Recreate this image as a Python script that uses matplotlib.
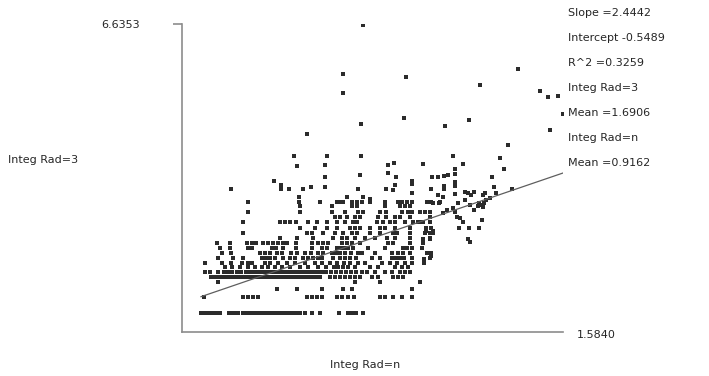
import matplotlib
matplotlib.use("Agg")
import matplotlib.pyplot as plt
import numpy as np

# axis ends shown on the chart
x_max = 1.5840
y_max = 6.6353
x_min = 0.40
y_min = -0.212

# regression stats printed on the right
slope = 2.4442
intercept = -0.5489
r2 = 0.3259
mean_3 = 1.6906
mean_n = 0.9162

# points that sit on horizontal rows: row value (Integ Rad=3) and the Integ Rad=n values on it
row_y = [0.210, 0.566, 0.744, 0.900, 1.011, 1.122, 1.233, 1.322, 1.433, 1.544,
         1.655, 1.767, 1.878, 1.989, 2.100, 2.233, 2.345, 2.456, 2.589, 2.678]
row_x = [
    [0.459, 0.468, 0.478, 0.487, 0.499, 0.509, 0.518, 0.546, 0.555, 0.565, 0.574, 0.590, 0.599,
     0.608, 0.618, 0.627, 0.636, 0.646, 0.655, 0.664, 0.673, 0.683, 0.692, 0.701, 0.711, 0.720,
     0.729, 0.739, 0.748, 0.757, 0.767, 0.782, 0.804, 0.829, 0.888, 0.916, 0.928, 0.941, 0.962],
    [0.468, 0.590, 0.605, 0.621, 0.636, 0.788, 0.804, 0.820, 0.835, 0.882, 0.897, 0.916, 0.935,
     1.015, 1.031, 1.056, 1.084, 1.115],
    [0.695, 0.757, 0.835, 0.900, 0.928, 1.115],
    [0.512, 0.938, 1.015, 1.140],
    [0.490, 0.503, 0.515, 0.524, 0.537, 0.546, 0.558, 0.568, 0.580, 0.593, 0.605, 0.614, 0.627,
     0.636, 0.649, 0.661, 0.670, 0.683, 0.692, 0.705, 0.714, 0.726, 0.736, 0.748, 0.760, 0.770,
     0.782, 0.795, 0.804, 0.816, 0.829, 0.860, 0.875, 0.891, 0.907, 0.922, 0.938, 0.953, 0.990,
     1.009, 1.056, 1.071, 1.087],
    [0.471, 0.487, 0.512, 0.531, 0.543, 0.555, 0.571, 0.583, 0.599, 0.611, 0.624, 0.636, 0.649,
     0.661, 0.673, 0.686, 0.698, 0.711, 0.723, 0.736, 0.748, 0.760, 0.773, 0.785, 0.798, 0.810,
     0.823, 0.835, 0.847, 0.863, 0.879, 0.894, 0.910, 0.925, 0.941, 0.959, 0.975, 1.000, 1.031,
     1.053, 1.077, 1.093, 1.109],
    [0.534, 0.555, 0.580, 0.605, 0.627, 0.649, 0.667, 0.689, 0.711, 0.736, 0.767, 0.792, 0.823,
     0.847, 0.872, 0.885, 0.900, 0.916, 0.938, 0.984, 1.009, 1.062, 1.084, 1.102],
    [0.471, 0.524, 0.552, 0.586, 0.605, 0.618, 0.658, 0.673, 0.698, 0.726, 0.751, 0.782, 0.813,
     0.835, 0.860, 0.882, 0.903, 0.922, 0.947, 0.969, 1.022, 1.046, 1.068, 1.093, 1.115, 1.152],
    [0.512, 0.558, 0.590, 0.649, 0.661, 0.673, 0.689, 0.714, 0.736, 0.751, 0.776, 0.792, 0.807,
     0.823, 0.835, 0.869, 0.891, 0.907, 0.922, 0.941, 0.990, 1.015, 1.053, 1.065, 1.077, 1.090,
     1.115, 1.171],
    [0.524, 0.552, 0.642, 0.658, 0.673, 0.695, 0.711, 0.739, 0.757, 0.782, 0.801, 0.823, 0.838,
     0.866, 0.879, 0.891, 0.907, 0.925, 0.947, 0.959, 1.000, 1.053, 1.071, 1.087, 1.109, 1.161,
     1.174],
    [0.518, 0.549, 0.605, 0.618, 0.680, 0.692, 0.714, 0.754, 0.804, 0.835, 0.851, 0.882, 0.894,
     0.907, 0.916, 0.931, 0.978, 1.031, 1.087, 1.099, 1.115, 1.146],
    [0.509, 0.549, 0.602, 0.618, 0.630, 0.652, 0.667, 0.683, 0.698, 0.714, 0.726, 0.754, 0.804,
     0.823, 0.838, 0.854, 0.897, 0.913, 0.928, 0.953, 1.040, 1.056, 1.109, 1.149],
    [0.705, 0.757, 0.807, 0.869, 0.897, 0.913, 0.938, 0.969, 1.000, 1.037, 1.062, 1.109, 1.171],
    [0.590, 0.788, 0.804, 0.838, 0.875, 0.900, 0.928, 0.944, 0.984, 1.015, 1.056, 1.068, 1.109,
     1.155, 1.171, 1.180],
    [0.767, 0.813, 0.851, 0.882, 0.922, 0.938, 0.953, 0.984, 1.015, 1.031, 1.062, 1.109, 1.158,
     1.174],
    [0.590, 0.705, 0.720, 0.736, 0.754, 0.792, 0.820, 0.851, 0.882, 0.907, 0.931, 0.944, 1.006,
     1.025, 1.046, 1.062, 1.093, 1.118, 1.133, 1.146, 1.171],
    [0.875, 0.891, 0.913, 0.938, 0.953, 1.009, 1.034, 1.062, 1.077, 1.109, 1.171],
    [0.605, 0.767, 0.866, 0.907, 0.947, 0.962, 1.015, 1.034, 1.084, 1.102, 1.115, 1.140, 1.155,
     1.171],
    [0.767, 0.866, 0.928, 0.944, 1.031, 1.077, 1.093, 1.109],
    [0.605, 0.764, 0.829, 0.882, 0.891, 0.900, 0.928, 0.944, 0.959, 0.984, 1.031, 1.071, 1.084,
     1.099, 1.115, 1.161, 1.174, 1.202],
]

# scattered points, upper left part
upper_x = [0.962, 0.900, 0.900, 0.956, 0.788, 0.748, 0.851, 0.956, 0.757, 0.844, 1.040, 1.059,
           0.953, 0.844, 1.040, 0.686, 0.708, 0.708, 0.733, 0.776, 0.801, 0.844, 0.947, 1.034,
           0.552, 0.764, 0.913, 0.962, 0.984]
upper_y = [6.620, 5.523, 5.101, 4.412, 4.190, 3.701, 3.701, 3.701, 3.478, 3.500, 3.500, 3.545,
           3.278, 3.234, 3.323, 3.145, 3.056, 2.967, 2.967, 2.967, 3.011, 3.011, 2.967, 2.967,
           2.967, 2.789, 2.789, 2.789, 2.745]

# scattered points, upper right part
right_x = [1.096, 1.444, 1.326, 1.513, 1.537, 1.568, 1.090, 1.292, 1.217, 1.584, 1.544, 1.413,
           1.242, 1.388, 1.149, 1.273, 1.401, 1.065, 1.177, 1.196, 1.214, 1.227, 1.248, 1.248,
           1.363, 1.115, 1.115, 1.062, 1.056, 1.214, 1.214, 1.248, 1.248, 1.174, 1.370, 1.426,
           1.115, 1.248, 1.196, 1.279, 1.289, 1.298, 1.307, 1.335, 1.376, 1.211]
right_y = [5.457, 5.635, 5.279, 5.145, 5.012, 5.034, 4.545, 4.501, 4.367, 4.634, 4.278, 3.945,
           3.701, 3.656, 3.523, 3.523, 3.411, 3.234, 3.234, 3.234, 3.256, 3.278, 3.300, 3.411,
           3.234, 3.145, 3.078, 3.056, 2.945, 3.034, 2.967, 3.123, 3.034, 2.967, 3.011, 2.967,
           2.878, 2.856, 2.834, 2.900, 2.878, 2.834, 2.900, 2.834, 2.878, 2.789]

# cluster right of the dense band
cluster_x = [1.149, 1.158, 1.180, 1.149, 1.171, 1.152, 1.174, 1.180, 1.199, 1.242, 1.248, 1.255,
             1.264, 1.273, 1.261, 1.292, 1.289, 1.295, 1.323, 1.332, 1.323, 1.329, 1.335, 1.338,
             1.345, 1.320, 1.342, 1.211, 1.224, 1.279, 1.295, 1.357, 1.307, 1.258]
cluster_y = [2.233, 2.033, 2.033, 1.855, 1.855, 1.411, 1.477, 2.656, 2.656, 2.545, 2.456, 2.345,
             2.322, 2.233, 2.100, 2.100, 1.855, 1.789, 2.100, 2.278, 2.656, 2.611, 2.567, 2.656,
             2.723, 2.589, 2.878, 2.433, 2.500, 2.723, 2.611, 2.767, 2.500, 2.656]

rad_n = np.concatenate([np.concatenate(row_x), upper_x, right_x, cluster_x])
rad_3 = np.concatenate([np.concatenate([[y] * len(xs) for y, xs in zip(row_y, row_x)]),
                        upper_y, right_y, cluster_y])

plt.rcParams['font.family'] = ['DejaVu Sans']
txt_color = '#262626'
axis_color = '#8c8c8c'

fig = plt.figure(figsize=(7.09, 3.76), dpi=100)
ax = fig.add_axes([182 / 709, 1 - 332 / 376, 381 / 709, 308 / 376])

ax.scatter(rad_n, rad_3, s=5, marker='s', c='#2b2b2b', linewidths=0)

fit_x = np.array([rad_n.min(), rad_n.max()])
ax.plot(fit_x, slope * fit_x + intercept, color='#5e5e5e', lw=0.9)

ax.set_xlim(x_min, x_max)
ax.set_ylim(y_min, y_max)

for side in ['top', 'right']:
    ax.spines[side].set_visible(False)
for side in ['left', 'bottom']:
    ax.spines[side].set_color(axis_color)
    ax.spines[side].set_linewidth(1.2)

ax.set_xticks([])
ax.set_yticks([y_max])
ax.set_yticklabels(['%.4f' % y_max])
ax.tick_params(axis='y', length=6.5, width=1.2, color=axis_color, pad=24,
               labelsize=8, labelcolor=txt_color)

ax.annotate('%.4f' % x_max, xy=(x_max, y_min), xycoords='data', xytext=(14, -3),
            textcoords='offset pixels', ha='left', va='center', fontsize=8, color=txt_color)

fig.text(8 / 709, 1 - 160 / 376, 'Integ Rad=3', ha='left', va='center', fontsize=8, color=txt_color)
fig.text(365 / 709, 1 - 365 / 376, 'Integ Rad=n', ha='center', va='center', fontsize=8, color=txt_color)

stats = ['Slope =%.4f' % slope,
         'Intercept %.4f' % intercept,
         'R^2 =%.4f' % r2,
         'Integ Rad=3',
         'Mean =%.4f' % mean_3,
         'Integ Rad=n',
         'Mean =%.4f' % mean_n]
for i, s in enumerate(stats):
    fig.text(568 / 709, 1 - (13 + 25 * i) / 376, s, ha='left', va='center',
             fontsize=8, color=txt_color)

fig.savefig('out.png', dpi=100)
